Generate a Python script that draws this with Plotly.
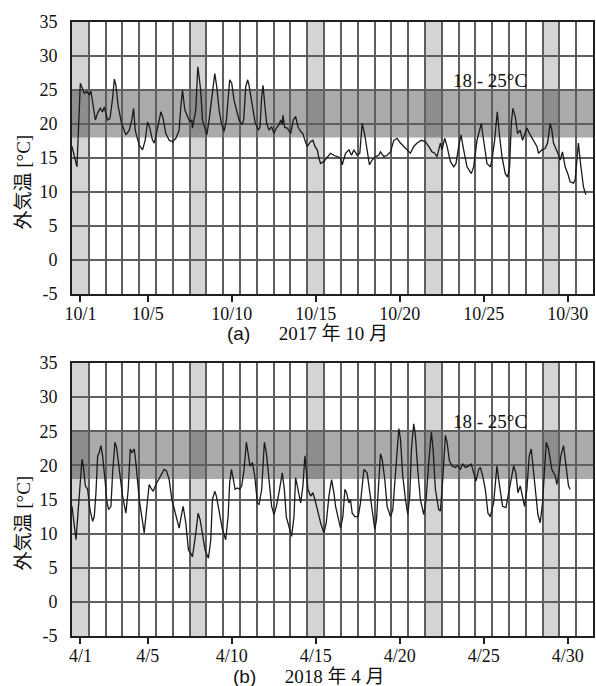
import plotly.graph_objects as go

# ---------------- data (hours since 00:00 on the 1st, outdoor temp °C) ----------------
oct_hours = [0, 7.1, 11.9, 15.2, 17.6, 20.9, 24.7, 27.1, 30.4, 33.3, 36.6, 40.4, 43.7, 46.1, 50.8,
             54.2, 58.0, 60.4, 62.7, 66.1, 70.8, 77.0, 81.7, 85.5, 87.9, 90.3, 92.7, 96.0, 100.7,
             104.5, 107.9, 111.2, 115.0, 117.4, 123.6, 126.9, 130.2, 134.0, 138.8, 143.5, 148.3,
             153.0, 155.4, 157.8, 161.1, 164.9, 168.2, 171.1, 172.0, 176.8, 179.6, 181.5, 183.9,
             186.3, 188.7, 192.5, 195.8, 200.5, 203.9, 206.7, 210.0, 213.4, 217.2, 220.5, 223.3,
             225.2, 228.1, 231.4, 234.8, 238.6, 242.4, 245.2, 248.1, 250.9, 252.8, 257.6, 261.4,
             266.1, 268.5, 270.9, 272.8, 275.6, 278.0, 281.3, 285.1, 288.4, 291.8, 295.6, 298.0,
             300.3, 301.3, 303.7, 307.5, 312.2, 316.0, 319.3, 322.7, 326.5, 329.8, 332.6, 336.0,
             340.7, 344.0, 346.9, 350.2, 352.6, 355.0, 359.7, 364.5, 369.2, 374.0, 378.7, 383.5,
             385.9, 390.6, 395.4, 399.2, 402.5, 407.3, 411.0, 414.4, 417.7, 421.5, 424.8, 428.6,
             433.4, 438.1, 440.5, 445.3, 450.0, 454.8, 459.5, 464.3, 469.0, 473.8, 478.5, 483.3,
             488.0, 492.8, 499.0, 504.7, 509.4, 514.2, 518.0, 521.3, 523.7, 526.1, 528.4, 532.2,
             535.6, 540.3, 545.1, 548.4, 552.2, 555.5, 559.3, 564.1, 570.2, 573.6, 578.3, 581.6,
             584.5, 586.4, 592.6, 597.3, 599.7, 603.5, 607.3, 610.2, 614.0, 618.7, 622.0, 624.9,
             627.3, 629.6, 633.0, 636.3, 640.1, 643.4, 649.6, 654.4, 659.1, 663.9, 666.2, 671.0,
             675.7, 679.1, 682.9, 685.3, 687.6, 690.0, 693.8, 697.1, 700.4, 704.2, 708.0, 711.3,
             716.1, 718.5, 720.9, 723.2, 725.6, 730.3, 733.7]
oct_temp = [16.7, 13.7, 26.0, 25.2, 24.5, 24.8, 24.3, 24.8, 22.1, 20.6, 21.6, 22.3, 21.8, 22.5, 20.6,
            20.8, 23.8, 26.6, 25.7, 22.5, 20.1, 18.4, 19.1, 20.6, 22.3, 19.1, 18.1, 16.9, 16.2,
            17.6, 20.3, 19.4, 17.6, 17.2, 20.1, 21.8, 20.8, 18.6, 17.6, 17.4, 17.9,
            19.1, 22.5, 25.0, 22.1, 21.1, 20.3, 20.6, 19.4, 22.1, 28.4, 27.0, 24.8,
            20.6, 19.6, 18.4, 20.6, 24.5, 27.4, 25.5, 22.1, 20.1, 18.9, 20.6, 25.0,
            26.5, 26.0, 23.5, 22.1, 20.6, 19.9, 20.6, 25.5, 26.5, 25.7, 22.5, 20.3,
            19.1, 19.6, 24.0, 25.7, 22.5, 20.1, 19.1, 19.6, 18.6, 19.4, 19.9, 20.6,
            19.9, 21.3, 19.5, 19.4, 18.6, 20.6, 21.1, 19.6, 18.9, 18.6, 17.6, 16.7,
            17.4, 17.6, 16.7, 16.2, 15.0, 14.2, 14.5, 15.2, 15.7, 15.4, 15.2, 15.0,
            14.0, 15.7, 16.2, 15.4, 16.2, 15.4, 15.7, 20.1, 18.6, 15.7, 14.0, 14.7,
            15.2, 15.4, 15.9, 15.2, 15.4, 15.9, 17.6, 17.9, 17.2, 16.7, 16.2, 15.7,
            16.7, 17.2, 17.6, 17.4, 16.7, 15.9, 15.7, 15.2, 16.2, 17.2, 16.2, 17.9,
            16.7, 14.5, 13.7, 14.2, 16.7, 18.4, 16.2, 13.7, 12.7, 13.7, 17.6, 19.1,
            20.1, 18.6, 14.2, 13.7, 14.7, 17.6, 21.8, 18.6, 15.2, 12.7, 12.2, 13.7,
            20.1, 22.3, 21.1, 18.6, 19.1, 17.6, 19.4, 18.4, 17.6, 16.7, 15.7, 16.2,
            16.4, 17.2, 20.1, 19.1, 17.2, 16.7, 15.7, 14.7, 15.9, 13.7, 12.7, 11.5,
            11.3, 11.8, 14.2, 17.2, 14.7, 10.8, 9.6]

apr_hours = [0, 5.7, 14.3, 16.2, 19.0, 22.3, 25.7, 29.5, 31.8, 34.2, 36.6, 39.0, 41.3, 43.7, 47.5,
             49.4, 52.3, 55.6, 58.0, 61.3, 63.7, 67.5, 72.2, 77.0, 80.3, 83.2, 85.5, 88.9, 91.2,
             96.0, 100.7, 103.1, 105.5, 107.9, 110.2, 112.6, 116.0, 119.8, 126.9, 131.6, 135.0,
             138.8, 142.6, 147.3, 150.6, 153.0, 156.8, 158.7, 162.5, 166.3, 169.6, 172.0, 176.8,
             180.1, 183.0, 186.3, 190.1, 194.8, 198.2, 200.5, 203.9, 206.2, 210.0, 214.8, 219.5,
             222.9, 225.2, 227.6, 230.5, 232.8, 236.2, 239.5, 242.4, 245.7, 249.0, 251.9, 254.2,
             257.6, 260.9, 264.7, 267.1, 270.9, 274.7, 277.5, 281.3, 285.1, 288.4, 291.8, 295.6,
             300.3, 303.2, 306.0, 312.2, 313.6, 317.0, 319.3, 321.7, 324.1, 326.5, 329.8, 332.6,
             334.5, 336.9, 340.7, 344.0, 346.9, 350.2, 355.0, 359.7, 363.1, 366.9, 370.7, 374.0,
             376.4, 379.7, 383.5, 386.8, 389.7, 392.0, 395.4, 397.7, 400.1, 403.9, 408.7, 412.0,
             416.8, 421.5, 424.8, 428.6, 432.4, 434.8, 438.1, 440.5, 442.9, 446.7, 450.0, 454.8,
             458.1, 461.9, 466.7, 469.0, 472.3, 476.2, 479.5, 482.3, 484.7, 488.0, 490.4, 493.7,
             497.5, 502.3, 505.6, 509.4, 513.2, 515.6, 518.9, 523.7, 526.1, 529.8, 533.2, 535.6,
             538.9, 542.7, 547.4, 551.2, 554.6, 557.9, 561.7, 566.4, 570.2, 573.6, 576.9, 580.7,
             583.1, 586.4, 590.2, 594.0, 597.3, 602.1, 606.8, 610.6, 614.9, 619.7, 625.8, 630.6,
             633.9, 636.8, 640.1, 643.4, 646.3, 649.6, 652.9, 655.8, 659.1, 662.4, 665.3, 668.6,
             672.0, 674.8, 677.2, 680.5, 685.3, 690.0, 692.4, 694.7, 698.1, 701.9, 705.2, 709.0,
             711.4]
apr_temp = [14.0, 9.1, 20.9, 19.9, 17.0, 16.5, 13.5, 11.8, 12.5, 16.0, 21.4, 21.9, 22.9, 21.4, 17.5,
            15.0, 13.5, 14.0, 18.9, 23.4, 22.6, 19.4, 15.5, 13.0, 16.5, 22.4, 21.9, 22.4, 20.4,
            15.0, 11.6, 10.1, 12.5, 15.5, 17.2, 16.7, 16.2, 17.2, 18.5, 19.4, 19.2,
            17.9, 15.0, 13.0, 11.8, 10.8, 13.0, 14.0, 11.6, 7.6, 7.1, 6.6, 10.1,
            13.0, 12.0, 10.1, 7.6, 6.4, 9.1, 15.0, 16.2, 15.5, 13.5, 10.6, 9.1,
            12.5, 17.5, 19.4, 17.9, 16.5, 16.7, 16.5, 17.0, 19.4, 23.4, 21.4, 19.9,
            20.4, 18.5, 14.5, 14.3, 16.5, 23.4, 21.9, 17.9, 14.0, 12.8, 14.0, 16.0,
            18.9, 16.5, 12.5, 10.1, 9.6, 12.5, 18.2, 17.0, 15.5, 14.5, 17.0, 21.4,
            19.4, 16.5, 15.5, 16.0, 15.0, 13.5, 11.6, 10.1, 11.6, 15.5, 17.9, 16.0,
            14.0, 12.5, 10.8, 12.5, 16.5, 16.0, 14.5, 15.0, 13.0, 12.5, 12.5, 14.5,
            19.4, 18.9, 16.5, 13.0, 10.6, 12.0, 17.0, 21.7, 20.9, 17.9, 14.0, 12.5,
            13.5, 18.5, 25.4, 23.9, 18.5, 15.0, 12.8, 15.5, 22.4, 26.1, 24.4, 19.4,
            15.0, 12.8, 15.0, 20.4, 24.9, 22.4, 16.5, 13.5, 13.3, 18.5, 24.4, 23.4,
            20.7, 19.9, 19.7, 20.0, 19.4, 20.2, 19.7, 19.9, 20.2, 18.9, 17.7, 19.4,
            19.7, 18.5, 16.5, 13.0, 12.5, 14.5, 19.9, 17.0, 14.0, 13.8, 17.5, 19.9,
            18.9, 16.0, 17.0, 15.5, 14.0, 16.5, 21.4, 22.4, 18.9, 15.0, 12.8, 11.6,
            14.5, 19.4, 23.4, 22.4, 19.4, 18.5, 17.2, 18.5, 21.4, 22.9, 20.4, 17.0,
            16.5]

tick_days = [1, 5, 10, 15, 20, 25, 30]
oct_ticklabels = ["10/1", "10/5", "10/10", "10/15", "10/20", "10/25", "10/30"]
apr_ticklabels = ["4/1", "4/5", "4/10", "4/15", "4/20", "4/25", "4/30"]
y_tickvals = [-5, 0, 5, 10, 15, 20, 25, 30, 35]
y_ticklabels = ["-5", "0", "5", "10", "15", "20", "25", "30", "35"]
oct_sundays = [1, 8, 15, 22, 29]
apr_sundays = [1, 8, 15, 22, 29]
comfort_low, comfort_high = 18, 25
comfort_label = "18 - 25°C"
y_title = "外気温 [°C]"
captions = [("(a)", "2017 年 10 月"), ("(b)", "2018 年 4 月")]

# ---------------- styling ----------------
SERIF = "Liberation Serif, Times New Roman, Noto Sans CJK JP, serif"
SANS = "Liberation Sans, Arial, sans-serif"
GRID = "#5e5e5e"
LINE = "#1f1f1f"
DAYS_SHOWN = 31

top_dom = [0.557, 1.0]
bot_dom = [0.0, 0.4446]

fig = go.Figure()
fig.add_trace(go.Scatter(x=[h / 24 for h in oct_hours], y=oct_temp, mode="lines",
                         line=dict(color="#1a1a1a", width=1.3), xaxis="x", yaxis="y",
                         showlegend=False, hoverinfo="skip"))
fig.add_trace(go.Scatter(x=[h / 24 for h in apr_hours], y=apr_temp, mode="lines",
                         line=dict(color="#1a1a1a", width=1.3), xaxis="x2", yaxis="y2",
                         showlegend=False, hoverinfo="skip"))


def xaxis(anchor, labels):
    return dict(domain=[0, 1], anchor=anchor, range=[0, DAYS_SHOWN], tickmode="array",
                tickvals=[d - 0.5 for d in tick_days], ticktext=labels, showgrid=False,
                ticks="outside", ticklen=6, tickwidth=1.5, tickcolor=LINE, automargin=False,
                showline=True, linecolor=LINE, linewidth=2, mirror=True, zeroline=False,
                ticklabelstandoff=-4,
                minor=dict(tickmode="linear", tick0=0, dtick=1, showgrid=True,
                           gridcolor=GRID, gridwidth=2, ticks=""),
                tickfont=dict(family=SERIF, size=18, color="#111"))


def yaxis(anchor, dom):
    return dict(domain=dom, anchor=anchor, range=[-5, 35], tickmode="array",
                tickvals=y_tickvals, ticktext=y_ticklabels,
                showgrid=True, gridcolor=GRID, gridwidth=2, zeroline=False, automargin=False,
                showline=True, linecolor=LINE, linewidth=2, mirror=True, ticks="",
                ticklabelstandoff=9, tickfont=dict(family=SERIF, size=18, color="#111"))


fig.update_layout(
    width=596, height=686,
    margin=dict(l=72, r=3, t=22, b=50, autoexpand=False),
    paper_bgcolor="white", plot_bgcolor="white",
    xaxis=xaxis("y", oct_ticklabels), yaxis=yaxis("x", top_dom),
    xaxis2=xaxis("y2", apr_ticklabels), yaxis2=yaxis("x2", bot_dom),
)

shapes = []
annotations = []
for xr, yr, sundays, dom in [("x", "y", oct_sundays, top_dom), ("x2", "y2", apr_sundays, bot_dom)]:
    for d in sundays:
        shapes.append(dict(type="rect", xref=xr, yref=yr, x0=d - 1, x1=d, y0=-5, y1=35,
                           fillcolor="#d4d4d6", line=dict(width=0), layer="below"))
    shapes.append(dict(type="rect", xref=xr, yref=yr, x0=0, x1=DAYS_SHOWN, y0=comfort_low,
                       y1=comfort_high, fillcolor="rgba(0,0,0,0.335)", line=dict(width=0),
                       layer="below"))
    annotations.append(dict(xref=xr, yref=yr, x=24.9, y=26.4, text=comfort_label, showarrow=False,
                            font=dict(family=SERIF, size=19, color="#111")))

# y-axis titles
for yc in [0.7386, 0.1832]:
    annotations.append(dict(xref="paper", yref="paper", x=-0.094, y=yc, text=y_title,
                            textangle=-90, showarrow=False, xanchor="center", yanchor="middle",
                            font=dict(family=SERIF, size=19, color="#111")))

# captions
for (lab, cap), yc, xc in zip(captions, [0.4925, -0.0665], [0.452, 0.454]):
    text = f'<span style="font-family:{SANS}">{lab}</span>\u3000\u2002{cap}'
    annotations.append(dict(xref="paper", yref="paper", x=xc, y=yc, text=text, showarrow=False,
                            xanchor="center", yanchor="middle",
                            font=dict(family=SERIF, size=19, color="#111")))

fig.update_layout(shapes=shapes, annotations=annotations)
fig.write_html("out.html", config={"displayModeBar": False},
               post_script="document.body.style.margin='0';document.body.style.overflow='hidden';")
